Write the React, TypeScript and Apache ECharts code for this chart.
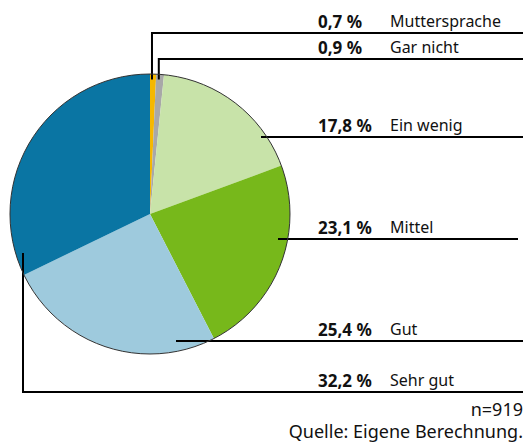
import React, { useEffect, useRef } from "react";
import * as echarts from "echarts";

const categories = ["Muttersprache", "Gar nicht", "Ein wenig", "Mittel", "Gut", "Sehr gut"];
const values = [0.7, 0.9, 17.8, 23.1, 25.4, 32.2];
const colors = ["#f5b800", "#a8a8a8", "#c8e3a9", "#77b81b", "#9ecadd", "#0a75a3"];
const footnotes = ["n=919", "Quelle: Eigene Berechnung."];

const fmt = (v: number) => v.toFixed(1).replace(".", ",") + " %";

export default function App() {
  const ref = useRef<HTMLDivElement>(null);
  useEffect(() => {
    if (!ref.current) return;
    const chart = echarts.init(ref.current, null, { renderer: "svg" });
    const cx = 150, cy = 214, R = 140;
    const rightX = 523;
    const labelX = 318;
    const labelY = [21, 47, 125, 227, 329, 380];
    const lineY = labelY.map((y) => y + 12);
    const total = values.reduce((a, b) => a + b, 0);
    const cum: number[] = [];
    values.reduce((acc, v, i) => { cum[i] = acc; return acc + v; }, 0);
    // annotation anchors (start of leader lines)
    const anchor = (i: number): number[][] => {
      if (i <= 1) {
        const mid = ((cum[i] + values[i] / 2) / total) * Math.PI * 2;
        const x = cx + R * 0.97 * Math.sin(mid) - 1;
        const y = cy - R * 0.96;
        return [[x, y], [x, lineY[i]], [rightX, lineY[i]]];
      }
      if (i === 2) return [[261, lineY[i]], [300, lineY[i]], [rightX, lineY[i]]];
      if (i === 3) return [[278, lineY[i]], [300, lineY[i]], [518, lineY[i]]];
      if (i === 4) return [[176, lineY[i]], [250, lineY[i]], [rightX, lineY[i]]];
      return [[23, 253], [23, lineY[i]], [rightX, lineY[i]]];
    };
    const pieData = categories.map((c, i) => ({ name: c, value: values[i] }));
    chart.setOption({
      animation: false,
      textStyle: { fontFamily: "Noto Sans" },
      series: [
        {
          type: "pie",
          center: [cx, cy],
          radius: R,
          startAngle: 90,
          clockwise: true,
          z: 2,
          silent: true,
          data: pieData.map((d, i) => ({ ...d, itemStyle: { color: colors[i] } })),
          label: { show: false },
          labelLine: { show: false },
          emphasis: { disabled: true },
        },
        {
          type: "pie",
          center: [cx, cy],
          radius: R,
          startAngle: 90,
          clockwise: true,
          z: 4,
          silent: true,
          avoidLabelOverlap: false,
          data: pieData.map((d) => ({ ...d, itemStyle: { color: "rgba(0,0,0,0)" } })),
          label: {
            show: true,
            formatter: (p: any) => `{p|${fmt(p.value)}}{n|${p.name}}`,
            rich: {
              p: { fontFamily: "Noto Sans", fontSize: 17, fontWeight: "bold", color: "#111", width: 72 },
              n: { fontFamily: "Noto Sans", fontSize: 16, color: "#111" },
            },
          },
          labelLine: { show: true, lineStyle: { color: "#000", width: 2 }, length: 10, length2: 10 },
          labelLayout: (params: any) => ({
            x: labelX,
            y: labelY[params.dataIndex],
            align: "left",
            verticalAlign: "middle",
            labelLinePoints: anchor(params.dataIndex),
          }),
          emphasis: { disabled: true },
        },
        {
          type: "pie",
          center: [cx, cy],
          radius: R,
          silent: true,
          z: 5,
          label: { show: false },
          labelLine: { show: false },
          data: [{ value: 1, itemStyle: { color: "rgba(0,0,0,0)", borderColor: "#333", borderWidth: 1 } }],
          emphasis: { disabled: true },
        },
      ],
      graphic: [
        {
          type: "text",
          right: 5,
          top: 400,
          style: { text: footnotes[0], fontFamily: "Noto Sans", fontSize: 18, fill: "#111", align: "right" },
        },
        {
          type: "text",
          right: 5,
          top: 422,
          style: { text: footnotes[1], fontFamily: "Noto Sans", fontSize: 18, fill: "#111", align: "right" },
        },
      ],
    });
    return () => chart.dispose();
  }, []);
  return (
    <div
      ref={ref}
      style={{ position: "fixed", left: 0, top: 0, width: 528, height: 445, background: "#fff" }}
    />
  );
}
